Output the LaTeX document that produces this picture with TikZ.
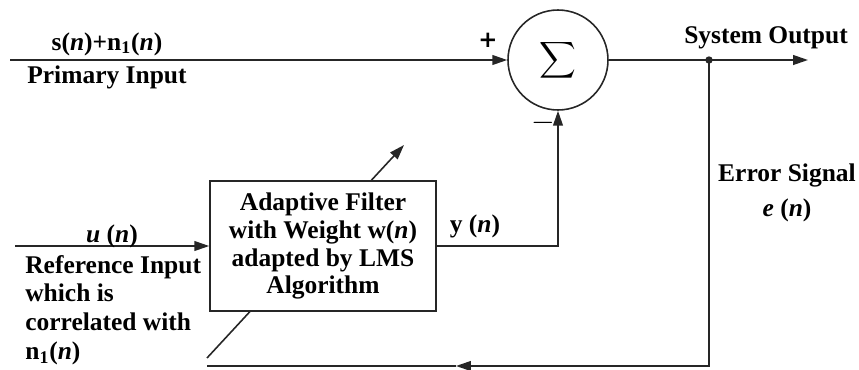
\documentclass[tikz,border=0pt]{standalone}
\usepackage{fontspec}
\setmainfont{Liberation Serif}
\newfontfamily\heavyfont{DejaVu Sans}
\usetikzlibrary{arrows.meta,positioning}
\definecolor{ink}{gray}{0.15}

\tikzset{
  lbl/.style={font=\bfseries\fontsize{14.5}{16.3}\selectfont, inner sep=0pt},
  sig/.style={ink, line width=0.9pt, -{Triangle[length=8.5pt,width=5.6pt]}},
  wire/.style={ink, line width=0.9pt},
  sumnode/.style={circle, draw=ink, line width=0.9pt, minimum size=2cm, inner sep=0pt},
  filterbox/.style={rectangle, draw=ink, line width=0.9pt, fill=white,
    minimum width=4.52cm, minimum height=2.6cm, align=center,
    font=\bfseries\fontsize{14.5}{15.9}\selectfont}
}

\begin{document}
\begin{tikzpicture}[x=0.02cm, y=-0.02cm]
  \useasboundingbox (0,0) rectangle (859,369);
  % free ends and corners
  \coordinate (pin)      at (10,60);
  \coordinate (uin)      at (15,246);
  \coordinate (tap)      at (709,60);
  \coordinate (out)      at (808,60);
  \coordinate (ycorner)  at (558,246);
  \coordinate (fbarrow)  at (456,366);
  \coordinate (fbend)    at (207,366);
  \coordinate (adjlo)    at (207,358);
  \coordinate (adjhi)    at (404,145);
  % adaptation arrow, hidden behind the filter box
  \draw[sig] (adjlo) -- (adjhi);
  % blocks
  \node[sumnode] (sum) at (558,60) {\scalebox{1.45}{$\displaystyle\sum$}};
  \node[filterbox] (filt) at (323,246)
    {Adaptive Filter\\ with Weight w(\textit{n})\\ adapted by LMS\\ Algorithm};
  % signal paths
  \draw[sig] (pin) -- (sum.west);
  \draw[sig] (uin) -- (filt.west);
  \draw[sig] (filt.east) -- (ycorner) -- (sum.south);
  \draw[sig] (sum.east) -- (out);
  \fill[ink] (tap) circle (2.1pt);
  \draw[sig] (tap) |- (fbarrow);
  \draw[wire] (fbarrow) -- (fbend);
  % labels
  \node[lbl] (plus)  at (488,40)  {\heavyfont\bfseries\fontsize{13}{13}\selectfont +};
  \node[lbl] (minus) at (543,123) {\fontsize{17}{17}\selectfont $-$};
  \node[lbl] (sn)    at (107,44)  {s(\textit{n})+n\textsubscript{1}(\textit{n})};
  \node[lbl, anchor=west] (prim) at (27,77) {Primary Input};
  \node[lbl] (un)    at (112,236) {\textit{u} (\textit{n})};
  \node[lbl, anchor=west, align=left] (ref) at (25,310)
    {Reference Input\\ which is\\ correlated with\\ n\textsubscript{1}(\textit{n})};
  \node[lbl] (yn)    at (475,226) {y (\textit{n})};
  \node[lbl] (sysout) at (766,38) {System Output};
  \node[lbl] (err)   at (787,175) {Error Signal};
  \node[lbl] (en)    at (787,210) {\textit{e} (\textit{n})};
\end{tikzpicture}
\end{document}
